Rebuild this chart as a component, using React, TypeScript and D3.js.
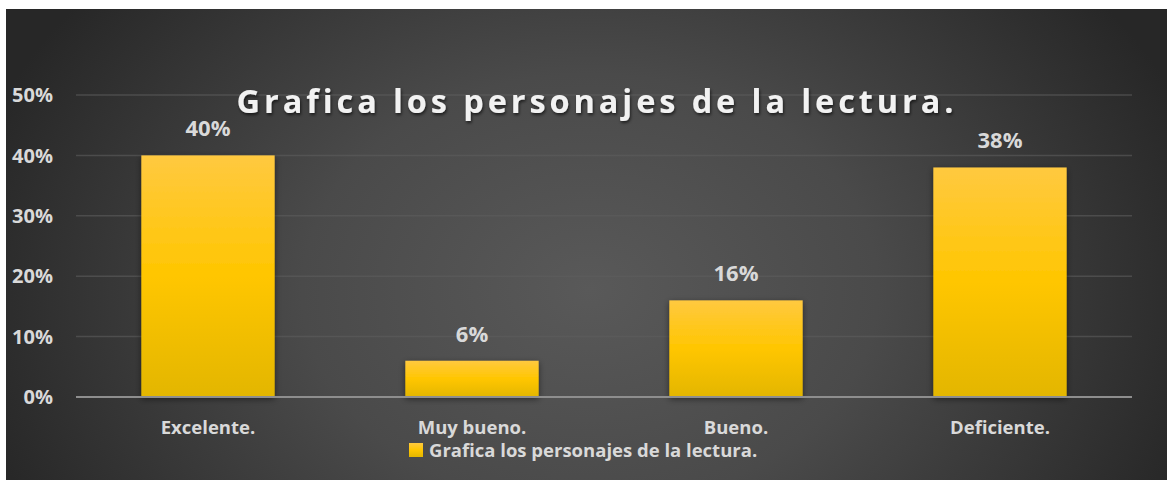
import React from "react";
import * as d3 from "d3";

const categories = ["Excelente.", "Muy bueno.", "Bueno.", "Deficiente."];
const values = [0.4, 0.06, 0.16, 0.38];
const yTicks = [0, 0.1, 0.2, 0.3, 0.4, 0.5];
const title = "Grafica los personajes de la lectura.";
const seriesName = "Grafica los personajes de la lectura.";

const W = 1167;
const H = 480;
const FONT = "'Open Sans', Lato, sans-serif";

export default function App() {
  const left = 76, right = 1132, top = 95, bottom = 397;
  const x = d3.scaleBand<string>().domain(categories).range([left, right]).paddingInner(0.495).paddingOuter(0.2475);
  const y = d3.scaleLinear().domain([0, 0.5]).range([bottom, top]);
  const fmt = d3.format(".0%");
  return (
    <svg width={W} height={H} style={{ position: "absolute", left: 0, top: 0, display: "block" }}>
      <defs>
        <radialGradient id="bg" gradientUnits="userSpaceOnUse" cx={590} cy={290} r={640} gradientTransform="translate(590,290) scale(1,0.75) translate(-590,-290)">
          <stop offset="0" stopColor="#595959" />
          <stop offset="0.45" stopColor="#4a4a4a" />
          <stop offset="1" stopColor="#272727" />
        </radialGradient>
        <linearGradient id="bar" x1="0" y1="0" x2="0" y2="1">
          <stop offset="0" stopColor="#ffc940" />
          <stop offset="0.5" stopColor="#ffc600" />
          <stop offset="1" stopColor="#e3b600" />
        </linearGradient>
        <filter id="shadow" x="-20%" y="-20%" width="140%" height="140%">
          <feDropShadow dx="0" dy="2" stdDeviation="3" floodColor="#000" floodOpacity="0.5" />
        </filter>
        <filter id="tshadow" x="-5%" y="-30%" width="110%" height="160%">
          <feDropShadow dx="1" dy="2" stdDeviation="1.5" floodColor="#000" floodOpacity="0.6" />
        </filter>
      </defs>
      <rect x={0} y={0} width={W} height={H} fill="#ffffff" />
      <rect x={6} y={9} width={W - 6} height={H - 9} fill="url(#bg)" />
      {yTicks.filter((t) => t > 0).map((t) => (
        <line key={t} x1={left} x2={right} y1={y(t)} y2={y(t)} stroke="#5e5e5e" strokeOpacity={0.6} strokeWidth={1.5} />
      ))}
      {categories.map((c, i) => (
        <rect key={c} x={x(c)} y={y(values[i])} width={x.bandwidth()} height={bottom - y(values[i])} fill="url(#bar)" filter="url(#shadow)" />
      ))}
      <line x1={left} x2={right} y1={bottom} y2={bottom} stroke="#8e8e8e" strokeWidth={2} />
      {yTicks.map((t) => (
        <text key={t} x={53} y={y(t)} dy="0.36em" textAnchor="end" fill="#d9d9d9" fontFamily={FONT} fontWeight={700} fontSize={20}>
          {fmt(t)}
        </text>
      ))}
      {categories.map((c, i) => (
        <text key={c} x={(x(c) as number) + x.bandwidth() / 2} y={y(values[i]) - 19} textAnchor="middle" fill="#d9d9d9" fontFamily={FONT} fontWeight={700} fontSize={22}>
          {fmt(values[i])}
        </text>
      ))}
      {categories.map((c) => (
        <text key={c} x={(x(c) as number) + x.bandwidth() / 2} y={434} textAnchor="middle" fill="#d9d9d9" fontFamily={FONT} fontWeight={700} fontSize={18.5}>
          {c}
        </text>
      ))}
      <rect x={409} y={443} width={14} height={14} fill="url(#bar)" />
      <text x={429} y={457} fill="#d9d9d9" fontFamily={FONT} fontWeight={700} fontSize={18.5}>
        {seriesName}
      </text>
      <text x={597} y={113} textAnchor="middle" fill="#f2f2f2" fontFamily={FONT} fontWeight={700} fontSize={32.5} letterSpacing={3.9} filter="url(#tshadow)">
        {title}
      </text>
    </svg>
  );
}
